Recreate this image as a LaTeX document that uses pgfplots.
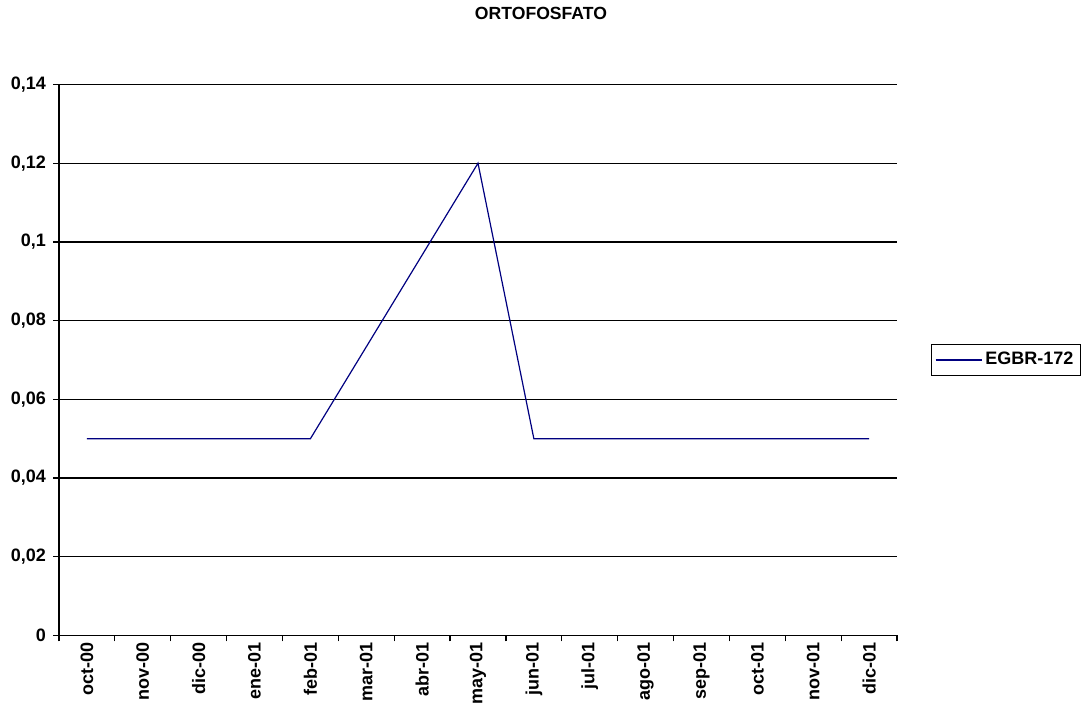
\documentclass[border=0pt]{standalone}
\usepackage{pgfplots}
\pgfplotsset{compat=1.18}
\usepackage{fontspec}
\setmainfont{Liberation Sans}
\definecolor{serie}{RGB}{0,0,128}

\begin{document}
\begin{tikzpicture}
% page frame: 541.5pt x 359pt
\path (0,0) rectangle (541.5pt,359pt);
\node[font=\bfseries\fontsize{8.8}{10}\selectfont] at (270.5pt,352.5pt) {ORTOFOSFATO};
\begin{axis}[
  at={(29.5pt,41.25pt)}, anchor=south west,
  scale only axis, width=419pt, height=275.5pt,
  xmin=-0.5, xmax=14.5, ymin=0, ymax=0.14,
  axis x line*=bottom, axis y line*=left,
  axis line style={black, line width=0.6pt, -},
  % tick marks on the category boundaries, names at the category centres
  xtick={-0.5,0.5,...,14.5},
  xticklabels={},
  extra x ticks={0,...,14},
  extra x tick labels={oct-00,nov-00,dic-00,ene-01,feb-01,mar-01,abr-01,may-01,jun-01,jul-01,ago-01,sep-01,oct-01,nov-01,dic-01},
  extra x tick style={major tick length=0pt, tick style={draw=none}},
  x tick label style={rotate=90, anchor=east},
  ytick={0,0.02,...,0.14},
  ymajorgrids,
  major grid style={black, line width=0.6pt},
  tick style={black, line width=0.6pt},
  tick align=outside, major tick length=3pt,
  yticklabel style={/pgf/number format/.cd, fixed, precision=2, use comma, assume math mode=true},
  tick label style={font=\bfseries\fontsize{9}{10}\selectfont},
  legend style={at={(1.040,0.5)}, anchor=west, draw=black, line width=0.6pt,
    font=\bfseries\fontsize{9}{10}\selectfont, inner xsep=2pt, inner ysep=2.5pt,
    nodes={inner sep=1.5pt}},
  legend cell align=left,
  legend image code/.code={\draw[#1] (0pt,0pt) -- (23pt,0pt);},
]
\addplot[serie, line width=0.6pt] coordinates {
  (0,0.05) (1,0.05) (2,0.05) (3,0.05) (4,0.05)
  (7,0.12)
  (8,0.05) (9,0.05) (10,0.05) (11,0.05) (12,0.05) (13,0.05) (14,0.05)
};
\addlegendentry{EGBR-172}
\end{axis}
\end{tikzpicture}
\end{document}
